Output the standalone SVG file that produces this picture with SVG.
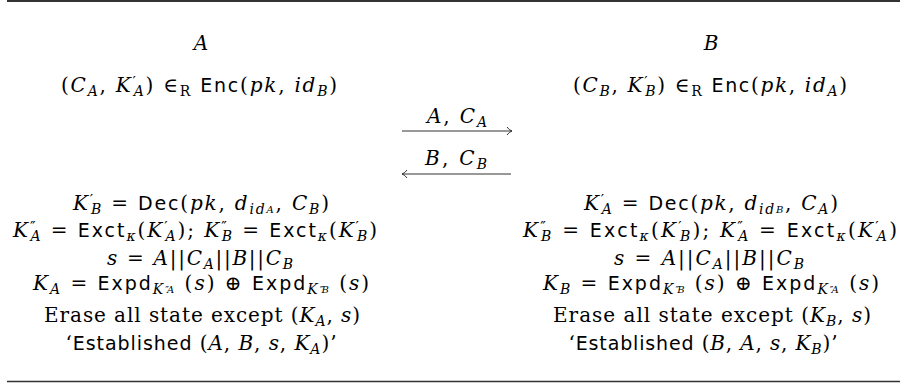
<svg xmlns="http://www.w3.org/2000/svg" width="900" height="387" viewBox="0 0 900 387">
<style>
text{font-family:"DejaVu Serif",serif;font-size:20px;fill:#000}
.m{font-style:italic}
.s{font-family:"DejaVu Sans",sans-serif;font-style:normal;font-size:19px}
.sb{font-size:14px;baseline-shift:-4px}
.sb2{font-size:10px;baseline-shift:-3px}
.sp{font-size:15px;baseline-shift:5px}
.rule{stroke:#333;fill:none}
.arr{stroke:#333;stroke-width:1;fill:none}
</style>
<defs>
<marker id="ah" markerWidth="10" markerHeight="10" refX="8" refY="5" orient="auto" markerUnits="userSpaceOnUse">
<path d="M3,1 Q5,4 8,5 Q5,6 3,9" fill="none" stroke="#333" stroke-width="1"/>
</marker>
</defs>
<line class="rule" x1="7" y1="1" x2="900" y2="1" stroke-width="2"/>
<line class="rule" x1="7" y1="381.5" x2="900" y2="381.5" stroke-width="1.4"/>

<g id="partyA">
<text x="201" y="50" text-anchor="middle" class="m">A</text>
<text x="199" y="92" text-anchor="middle" textLength="276" lengthAdjust="spacing">(<tspan class="m">C</tspan><tspan class="m sb">A</tspan>, <tspan class="m">K</tspan><tspan class="sp">′</tspan><tspan class="m sb" dx="-4">A</tspan>) ∈<tspan class="sb">R</tspan> <tspan class="s">Enc</tspan>(<tspan class="m">pk</tspan>, <tspan class="m">id</tspan><tspan class="m sb">B</tspan>)</text>
</g>

<g id="partyB">
<text x="711" y="50" text-anchor="middle" class="m">B</text>
<text x="710" y="92" text-anchor="middle" textLength="274" lengthAdjust="spacing">(<tspan class="m">C</tspan><tspan class="m sb">B</tspan>, <tspan class="m">K</tspan><tspan class="sp">′</tspan><tspan class="m sb" dx="-4">B</tspan>) ∈<tspan class="sb">R</tspan> <tspan class="s">Enc</tspan>(<tspan class="m">pk</tspan>, <tspan class="m">id</tspan><tspan class="m sb">A</tspan>)</text>
</g>

<g id="connectors">
<line class="arr" x1="402" y1="131" x2="512" y2="131" marker-end="url(#ah)"/>
<text x="457" y="123" text-anchor="middle" textLength="60" lengthAdjust="spacing"><tspan class="m">A</tspan>, <tspan class="m">C</tspan><tspan class="m sb">A</tspan></text>
<line class="arr" x1="511" y1="174" x2="402" y2="174" marker-end="url(#ah)"/>
<text x="456" y="165" text-anchor="middle" textLength="62" lengthAdjust="spacing"><tspan class="m">B</tspan>, <tspan class="m">C</tspan><tspan class="m sb">B</tspan></text>
</g>

<g id="computeA">
<text x="201" y="210" text-anchor="middle" textLength="256" lengthAdjust="spacing"><tspan class="m">K</tspan><tspan class="sp">′</tspan><tspan class="m sb" dx="-4">B</tspan> = <tspan class="s">Dec</tspan>(<tspan class="m">pk</tspan>, <tspan class="m">d</tspan><tspan class="m sb">id</tspan><tspan class="m sb2">A</tspan>, <tspan class="m">C</tspan><tspan class="m sb">B</tspan>)</text>
<text x="195" y="237" text-anchor="middle" textLength="364" lengthAdjust="spacing"><tspan class="m">K</tspan><tspan class="sp">″</tspan><tspan class="m sb" dx="-7">A</tspan> = <tspan class="s">Exct</tspan><tspan class="m sb">κ</tspan>(<tspan class="m">K</tspan><tspan class="sp">′</tspan><tspan class="m sb" dx="-4">A</tspan>); <tspan class="m">K</tspan><tspan class="sp">″</tspan><tspan class="m sb" dx="-7">B</tspan> = <tspan class="s">Exct</tspan><tspan class="m sb">κ</tspan>(<tspan class="m">K</tspan><tspan class="sp">′</tspan><tspan class="m sb" dx="-4">B</tspan>)</text>
<text x="200" y="265" text-anchor="middle" textLength="186" lengthAdjust="spacing"><tspan class="m">s</tspan> = <tspan class="m">A</tspan>||<tspan class="m">C</tspan><tspan class="m sb">A</tspan>||<tspan class="m">B</tspan>||<tspan class="m">C</tspan><tspan class="m sb">B</tspan></text>
<text x="201" y="290" text-anchor="middle" textLength="336" lengthAdjust="spacing"><tspan class="m">K</tspan><tspan class="m sb">A</tspan> = <tspan class="s">Expd</tspan><tspan class="m sb">K</tspan><tspan class="sb2" baseline-shift="2">″</tspan><tspan class="m sb2" dx="-4" baseline-shift="-8">A</tspan> (<tspan class="m">s</tspan>) ⊕ <tspan class="s">Expd</tspan><tspan class="m sb">K</tspan><tspan class="sb2" baseline-shift="2">″</tspan><tspan class="m sb2" dx="-4" baseline-shift="-8">B</tspan> (<tspan class="m">s</tspan>)</text>
<text x="202" y="322" text-anchor="middle" textLength="316" lengthAdjust="spacing">Erase all state except (<tspan class="m">K</tspan><tspan class="m sb">A</tspan>, <tspan class="m">s</tspan>)</text>
<text x="201" y="350" text-anchor="middle" textLength="271" lengthAdjust="spacing">‘<tspan class="s">Established</tspan> (<tspan class="m">A</tspan>, <tspan class="m">B</tspan>, <tspan class="m">s</tspan>, <tspan class="m">K</tspan><tspan class="m sb">A</tspan>)’</text>
</g>

<g id="computeB">
<text x="711" y="210" text-anchor="middle" textLength="254" lengthAdjust="spacing"><tspan class="m">K</tspan><tspan class="sp">′</tspan><tspan class="m sb" dx="-4">A</tspan> = <tspan class="s">Dec</tspan>(<tspan class="m">pk</tspan>, <tspan class="m">d</tspan><tspan class="m sb">id</tspan><tspan class="m sb2">B</tspan>, <tspan class="m">C</tspan><tspan class="m sb">A</tspan>)</text>
<text x="710" y="237" text-anchor="middle" textLength="374" lengthAdjust="spacing"><tspan class="m">K</tspan><tspan class="sp">″</tspan><tspan class="m sb" dx="-7">B</tspan> = <tspan class="s">Exct</tspan><tspan class="m sb">κ</tspan>(<tspan class="m">K</tspan><tspan class="sp">′</tspan><tspan class="m sb" dx="-4">B</tspan>); <tspan class="m">K</tspan><tspan class="sp">″</tspan><tspan class="m sb" dx="-7">A</tspan> = <tspan class="s">Exct</tspan><tspan class="m sb">κ</tspan>(<tspan class="m">K</tspan><tspan class="sp">′</tspan><tspan class="m sb" dx="-4">A</tspan>)</text>
<text x="709" y="265" text-anchor="middle" textLength="190" lengthAdjust="spacing"><tspan class="m">s</tspan> = <tspan class="m">A</tspan>||<tspan class="m">C</tspan><tspan class="m sb">A</tspan>||<tspan class="m">B</tspan>||<tspan class="m">C</tspan><tspan class="m sb">B</tspan></text>
<text x="711" y="290" text-anchor="middle" textLength="336" lengthAdjust="spacing"><tspan class="m">K</tspan><tspan class="m sb">B</tspan> = <tspan class="s">Expd</tspan><tspan class="m sb">K</tspan><tspan class="sb2" baseline-shift="2">″</tspan><tspan class="m sb2" dx="-4" baseline-shift="-8">B</tspan> (<tspan class="m">s</tspan>) ⊕ <tspan class="s">Expd</tspan><tspan class="m sb">K</tspan><tspan class="sb2" baseline-shift="2">″</tspan><tspan class="m sb2" dx="-4" baseline-shift="-8">A</tspan> (<tspan class="m">s</tspan>)</text>
<text x="712" y="322" text-anchor="middle" textLength="318" lengthAdjust="spacing">Erase all state except (<tspan class="m">K</tspan><tspan class="m sb">B</tspan>, <tspan class="m">s</tspan>)</text>
<text x="703" y="350" text-anchor="middle" textLength="269" lengthAdjust="spacing">‘<tspan class="s">Established</tspan> (<tspan class="m">B</tspan>, <tspan class="m">A</tspan>, <tspan class="m">s</tspan>, <tspan class="m">K</tspan><tspan class="m sb">B</tspan>)’</text>
</g>
</svg>
